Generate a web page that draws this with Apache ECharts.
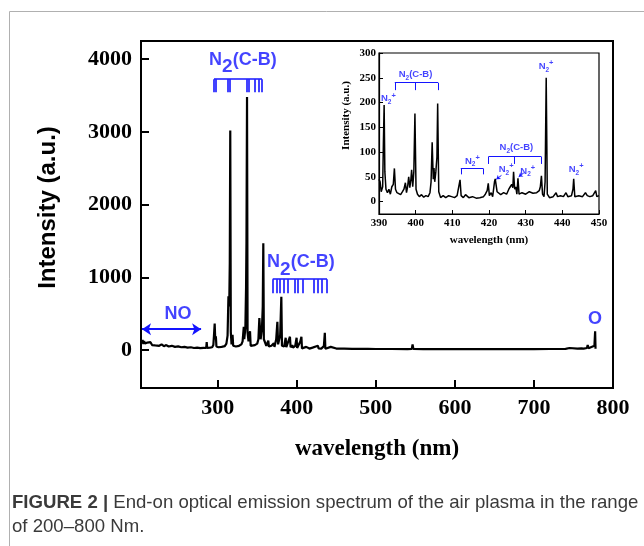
<!DOCTYPE html>
<html>
<head>
<meta charset="utf-8">
<script src="https://cdn.jsdelivr.net/npm/echarts@6/dist/echarts.min.js"></script>
<style>
  html, body { margin: 0; padding: 0; background: #fff; }
  #chart { width: 644px; height: 546px; }
</style>
</head>
<body>
<div id="chart"></div>
<script>
// full spectrum 200-800 nm, [wavelength, intensity]
const mainSpectrum = [
  [203, 135], [204, 95], [205, 140], [206, 85], [207, 125], [208, 90], [209, 115], [210, 75],
  [211, 105], [213, 80], [215, 110], [217, 70], [219, 95], [221, 65], [223, 90], [226, 60],
  [229, 80], [232, 55], [235, 70], [238, 50], [242, 60], [246, 45], [250, 52], [254, 40],
  [258, 45], [262, 35], [266, 40], [270, 30], [274, 35], [278, 28], [282, 32], [285.5, 30],
  [286.1, 110], [286.7, 30], [290, 35], [293, 40], [294.5, 70], [295.3, 200], [296.2, 365],
  [296.9, 150], [297.7, 190], [298.4, 50], [301, 40], [305, 45], [309, 55], [311, 90],
  [312.5, 200], [313.6, 740], [314.6, 600], [315.3, 1200], [315.9, 3020], [316.6, 250],
  [317.5, 80], [318.8, 210], [319.6, 60], [323, 50], [327, 60], [330, 80], [331.5, 120],
  [333.0, 320], [333.6, 150], [335, 300], [335.9, 870], [336.4, 1500], [337.1, 3480],
  [337.8, 240], [339, 120], [340.9, 260], [341.7, 60], [344, 55], [347, 70], [350, 90],
  [351.5, 150], [352.7, 440], [353.6, 430], [354.3, 150], [356, 300], [357.0, 600],
  [357.7, 1470], [358.4, 150], [360.7, 160], [361.5, 60], [364, 130], [364.8, 50], [368, 60],
  [371, 96], [371.8, 45], [374, 150], [375.5, 390], [376.4, 80], [379, 200], [380.5, 735],
  [381.3, 60], [384, 50], [386, 170], [386.8, 40], [389, 55], [391.4, 185], [392.2, 40],
  [394.3, 70], [395.2, 35], [398.1, 60], [399.8, 170], [400.5, 30], [404.5, 120], [405.9, 185],
  [406.6, 25], [409, 30], [412, 45], [412.8, 20], [416, 22], [420, 35], [421.6, 48], [422.4, 20],
  [426.8, 60], [427.5, 25], [431, 22], [434.3, 55], [435.5, 240], [436.2, 20], [443, 45],
  [443.8, 18], [450, 22], [460, 20], [470, 18], [480, 18], [490, 17], [500, 16], [520, 16],
  [540, 15], [545.5, 16], [546.5, 80], [547.5, 16], [560, 15], [580, 14], [600, 14], [620, 14],
  [640, 14], [660, 14], [680, 15], [700, 15], [720, 16], [740, 18], [745, 30], [746, 18],
  [755, 22], [760, 25], [762, 50], [763, 22], [767, 30], [768, 70], [769, 25], [772, 40],
  [774, 25], [776.5, 60], [777.4, 260], [777.9, 20]
];

// zoomed spectrum 390-450 nm
const insetSpectrum = [
  [390, 45], [390.3, 40], [390.6, 20], [391.0, 30], [391.2, 120], [391.4, 195], [391.6, 60],
  [391.9, 25], [392.3, 18], [392.7, 25], [393.1, 15], [393.5, 30], [393.9, 35], [394.2, 67],
  [394.5, 25], [394.9, 18], [395.4, 22], [395.9, 14], [396.4, 20], [396.8, 25], [397.2, 38],
  [397.5, 18], [397.8, 30], [398.1, 50], [398.4, 28], [398.7, 45], [398.9, 64], [399.2, 30],
  [399.5, 60], [399.8, 178], [400.1, 25], [400.5, 15], [401, 10], [401.6, 14], [402.2, 9],
  [402.8, 12], [403.4, 10], [403.9, 18], [404.2, 40], [404.5, 120], [404.8, 45], [405.0, 68],
  [405.2, 40], [405.5, 60], [405.8, 90], [406.0, 198], [406.3, 20], [406.8, 8], [407.5, 12],
  [408.2, 8], [409, 12], [409.8, 10], [410.6, 8], [411.3, 12], [411.8, 15], [412.1, 44],
  [412.4, 12], [413, 8], [413.6, 14], [414, 17], [414.5, 8], [415.5, 10], [416.5, 7],
  [417.5, 8], [418.5, 10], [419, 15], [419.5, 22], [419.8, 37], [420.1, 12], [420.6, 18],
  [421.0, 10], [421.5, 40], [421.7, 46], [421.9, 45], [422.2, 20], [422.6, 18], [423.2, 14],
  [424, 18], [424.8, 15], [425.4, 25], [425.8, 30], [426.2, 35], [426.5, 28], [426.7, 60],
  [427.0, 25], [427.3, 30], [427.6, 15], [427.9, 47], [428.2, 15], [429, 18], [430, 15],
  [431, 20], [432, 17], [433, 18], [433.7, 22], [434.0, 30], [434.3, 52], [434.6, 15],
  [435.0, 10], [435.3, 40], [435.6, 250], [435.9, 15], [436.5, 8], [437.5, 10], [438.3, 18],
  [438.7, 10], [439.5, 12], [440.3, 10], [441, 18], [441.5, 10], [442.5, 12], [442.9, 25],
  [443.1, 46], [443.4, 10], [444.5, 12], [445.5, 10], [446.3, 18], [446.8, 12], [447.5, 10],
  [448.3, 12], [449.1, 22], [449.4, 10], [450, 12]
];

const mainTicksX = [300, 400, 500, 600, 700, 800];
const mainTicksY = [0, 1000, 2000, 3000, 4000];
const insetTicksY = [0, 50, 100, 150, 200, 250, 300];

// N2(C-B) band head markers (nm)
const combUpper = [295.3, 297.8, 313.0, 315.6, 337.1, 339.6, 347.2, 352.3, 356.0];
const combLower = [369.6, 374.1, 378.6, 383.2, 388.0, 397.4, 401.3, 407.9, 421.7, 426.3, 431.8, 438.3];

const blue = '#1414ff';
const serif = '"Liberation Serif", "Times New Roman", serif';
const sans = '"Liberation Sans", Arial, sans-serif';
const plain = v => String(v);

function comb(xs, yTop, yBot) {
  const segs = [{ coords: [[xs[0], yTop], [xs[xs.length - 1], yTop]] }];
  xs.forEach(x => segs.push({ coords: [[x, yTop], [x, yBot]] }));
  return segs;
}

// the h token only stretches the line box so that top/bottom aligned tokens move apart
const bigRich = {
  n: { fontSize: 18, fontWeight: 'bold', fontFamily: sans, color: blue, lineHeight: 20, verticalAlign: 'top' },
  s: { fontSize: 19, fontWeight: 'bold', fontFamily: sans, color: blue, lineHeight: 20, verticalAlign: 'bottom' },
  h: { fontSize: 1, lineHeight: 26 }
};
const smallRich = {
  n: { fontSize: 9.5, fontWeight: 'bold', fontFamily: sans, color: blue, lineHeight: 10, verticalAlign: 'middle' },
  s: { fontSize: 6.5, fontWeight: 'bold', fontFamily: sans, color: blue, lineHeight: 6, verticalAlign: 'bottom' },
  p: { fontSize: 7.5, fontWeight: 'bold', fontFamily: sans, color: blue, lineHeight: 6, verticalAlign: 'top' },
  h: { fontSize: 1, lineHeight: 14 }
};
const N2CB = '{n|N}{s|2}{n|(C-B)}{h| }';
const N2CBsmall = '{n|N}{s|2}{n|(C-B)}{h| }';
const N2p = '{n|N}{s|2}{p|+}{h| }';

const chart = echarts.init(document.getElementById('chart'), null, { renderer: 'canvas' });

chart.setOption({
  animation: false,
  grid: [
    { left: 141, top: 41, width: 472, height: 347, show: true, borderColor: '#000', borderWidth: 2 },
    { left: 379, top: 53, width: 220, height: 161, show: true, borderColor: '#000', borderWidth: 1.2, backgroundColor: '#fff', z: 10 }
  ],
  xAxis: [
    {
      type: 'value', gridIndex: 0, min: 203, max: 800,
      name: 'wavelength (nm)', nameLocation: 'middle', nameGap: 50,
      nameTextStyle: { fontFamily: serif, fontWeight: 'bold', fontSize: 23, color: '#000' },
      axisLine: { onZero: false, lineStyle: { color: '#000', width: 2 } },
      axisTick: { inside: true, length: 8, lineStyle: { width: 2 }, customValues: mainTicksX },
      axisLabel: { customValues: mainTicksX, formatter: plain, margin: 9, fontFamily: serif, fontWeight: 'bold', fontSize: 22, color: '#000' },
      splitLine: { show: false }
    },
    {
      type: 'value', gridIndex: 1, min: 390, max: 450, interval: 10, z: 10,
      name: 'wavelength (nm)', nameLocation: 'middle', nameGap: 21,
      nameTextStyle: { fontFamily: serif, fontWeight: 'bold', fontSize: 11, color: '#000' },
      axisLine: { onZero: false, lineStyle: { color: '#000', width: 1.2 } },
      axisTick: { inside: true, length: 4, lineStyle: { width: 1 } },
      axisLabel: { margin: 4, fontFamily: serif, fontWeight: 'bold', fontSize: 11, color: '#000' },
      splitLine: { show: false }
    }
  ],
  yAxis: [
    {
      type: 'value', gridIndex: 0, min: -520, max: 4250,
      name: 'Intensity (a.u.)', nameLocation: 'middle', nameGap: 81,
      nameTextStyle: { fontFamily: sans, fontWeight: 'bold', fontSize: 24, color: '#000', padding: [0, 0, 0, 14] },
      axisLine: { onZero: false, lineStyle: { color: '#000', width: 2 } },
      axisTick: { inside: true, length: 8, lineStyle: { width: 2 }, customValues: mainTicksY },
      axisLabel: { customValues: mainTicksY, formatter: plain, margin: 9, fontFamily: serif, fontWeight: 'bold', fontSize: 22, color: '#000' },
      splitLine: { show: false }
    },
    {
      type: 'value', gridIndex: 1, min: -25, max: 300, z: 10,
      name: 'Intensity (a.u.)', nameLocation: 'middle', nameGap: 27,
      nameTextStyle: { fontFamily: serif, fontWeight: 'bold', fontSize: 11, color: '#000', padding: [0, 0, 0, 36] },
      axisLine: { onZero: false, lineStyle: { color: '#000', width: 1.2 } },
      axisTick: { inside: true, length: 4, lineStyle: { width: 1 }, customValues: insetTicksY },
      axisLabel: { customValues: insetTicksY, formatter: plain, margin: 3, fontFamily: serif, fontWeight: 'bold', fontSize: 11, color: '#000' },
      splitLine: { show: false }
    }
  ],
  series: [
    {
      type: 'line', xAxisIndex: 0, yAxisIndex: 0, data: mainSpectrum,
      showSymbol: false, lineStyle: { color: '#000', width: 2.2 }, z: 3
    },
    {
      type: 'lines', coordinateSystem: 'cartesian2d', xAxisIndex: 0, yAxisIndex: 0,
      data: comb(combUpper, 3725, 3546).concat(comb(combLower, 976, 784)),
      lineStyle: { color: blue, width: 1.6, opacity: 1 }, symbol: ['none', 'none'], z: 4
    },
    {
      type: 'lines', coordinateSystem: 'cartesian2d', xAxisIndex: 0, yAxisIndex: 0,
      data: [{ coords: [[204.3, 289], [279, 289]] }],
      lineStyle: { color: blue, width: 2, opacity: 1 }, symbol: ['arrow', 'arrow'], symbolSize: 9, z: 4
    },
    {
      type: 'scatter', xAxisIndex: 0, yAxisIndex: 0, symbolSize: 0, z: 5,
      data: [[332, 3940, N2CB], [405.4, 1150, N2CB], [249.8, 495, 'NO'], [777.3, 426, 'O']],
      label: {
        show: true, position: 'inside', formatter: p => p.data[2], rich: bigRich,
        fontSize: 18, fontWeight: 'bold', fontFamily: sans, color: blue
      }
    },
    // inset
    {
      type: 'line', xAxisIndex: 1, yAxisIndex: 1, data: insetSpectrum,
      showSymbol: false, lineStyle: { color: '#000', width: 1.5 }, z: 12
    },
    {
      type: 'lines', coordinateSystem: 'cartesian2d', xAxisIndex: 1, yAxisIndex: 1,
      data: comb([394.3, 399.8, 406.1], 240, 225)
        .concat(comb([412.3, 418.4], 67, 55))
        .concat(comb([419.9, 426.9, 434.2], 91, 76)),
      lineStyle: { color: blue, width: 1, opacity: 1 }, symbol: ['none', 'none'], z: 13
    },
    {
      type: 'lines', coordinateSystem: 'cartesian2d', xAxisIndex: 1, yAxisIndex: 1,
      data: [{ coords: [[423.4, 53], [422.0, 45]] }, { coords: [[429.5, 58], [428.1, 50]] }],
      lineStyle: { color: blue, width: 1, opacity: 1 }, symbol: ['none', 'arrow'], symbolSize: 4, z: 13
    },
    {
      type: 'scatter', xAxisIndex: 1, yAxisIndex: 1, symbolSize: 0, z: 14,
      data: [
        [392.6, 208, N2p], [400, 256, N2CBsmall], [415.5, 82, N2p], [427.5, 109, N2CBsmall],
        [424.7, 65, N2p], [430.6, 62, N2p], [435.6, 273, N2p], [443.8, 65, N2p]
      ],
      label: { show: true, position: 'inside', formatter: p => p.data[2], rich: smallRich }
    }
  ],
  graphic: [
    {
      type: 'polyline', silent: true,
      shape: { points: [[9.5, 546], [9.5, 11.5], [644, 11.5]] },
      style: { stroke: '#b0b0b0', lineWidth: 1, fill: null }
    },
    {
      type: 'text', x: 12, y: 503, silent: true,
      style: {
        text: '{b|FIGURE 2 |} End-on optical emission spectrum of the air plasma in the range',
        fontFamily: sans, fontSize: 18.6, fill: '#3a3a3a', verticalAlign: 'middle',
        rich: { b: { fontWeight: 'bold', fontSize: 18.6, fontFamily: sans, fill: '#3a3a3a' } }
      }
    },
    {
      type: 'text', x: 12, y: 527, silent: true,
      style: {
        text: 'of 200\u2013800 Nm.',
        fontFamily: sans, fontSize: 18.6, fill: '#3a3a3a', verticalAlign: 'middle'
      }
    }
  ]
});

window.addEventListener('resize', () => chart.resize());
</script>
</body>
</html>
